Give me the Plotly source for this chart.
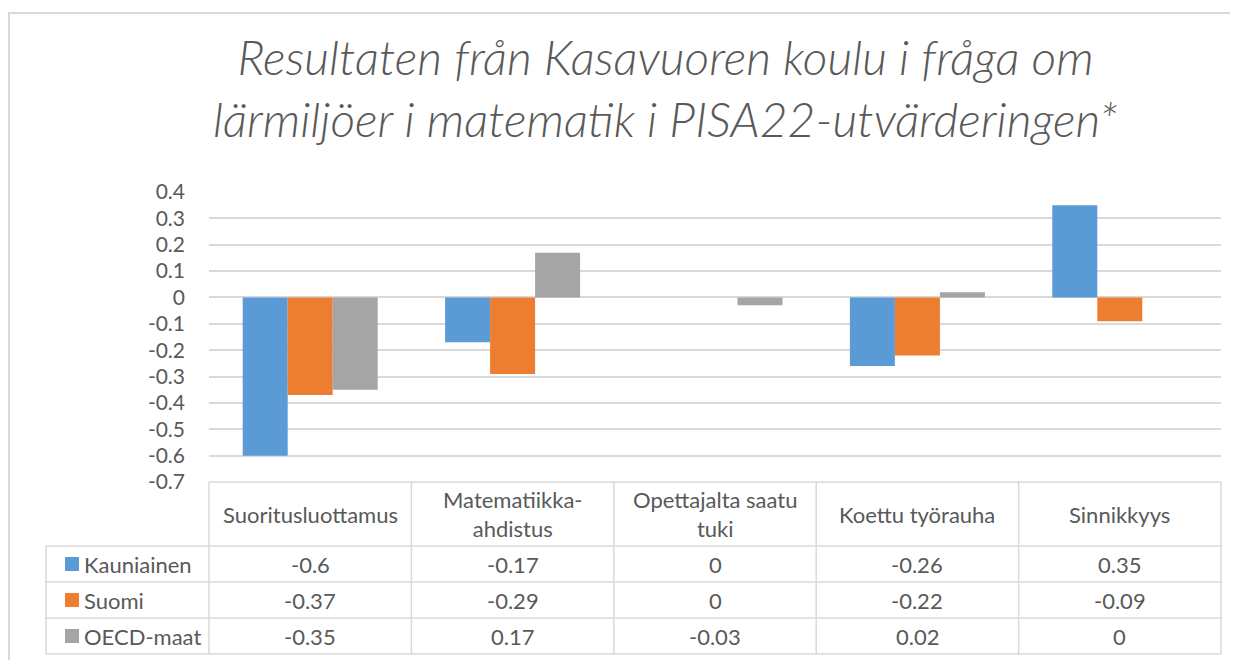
import plotly.graph_objects as go

categories = ["Suoritusluottamus", "Matematiikka-<br>ahdistus", "Opettajalta saatu<br>tuki",
              "Koettu työrauha", "Sinnikkyys"]
series_names = ["Kauniainen", "Suomi", "OECD-maat"]
kauniainen = [-0.6, -0.17, 0, -0.26, 0.35]
suomi = [-0.37, -0.29, 0, -0.22, -0.09]
oecd = [-0.35, 0.17, -0.03, 0.02, 0]
series_values = [kauniainen, suomi, oecd]
series_colors = ["#5b9bd5", "#ed7d31", "#a5a5a5"]
y_ticks = [0.4, 0.3, 0.2, 0.1, 0, -0.1, -0.2, -0.3, -0.4, -0.5, -0.6, -0.7]
title_text = "Resultaten från Kasavuoren koulu i fråga om<br>lärmiljöer i matematik i PISA22-utvärderingen*"

# page body has an 8px margin; work in screen pixels and shift by OFF
OFF = 8
W, H = 1238 - OFF, 660 - OFF
L, R, T, B = 209, 1221, 192, 482   # plot area in screen pixels
FONT = "Lato"
TXT = "#595959"
LINE = "#d9d9d9"
TFS = 22

def px(x):
    return (x - L) / (R - L)

def py(y):
    return (B - y) / (B - T)

fig = go.Figure()
for name, vals, col in zip(series_names, series_values, series_colors):
    fig.add_trace(go.Bar(x=list(range(len(categories))), y=vals, name=name,
                         marker=dict(color=col, line=dict(width=0)), showlegend=False))

shapes = []
# outer chart border
shapes.append(dict(type="line", xref="paper", yref="paper", x0=px(8), x1=px(1250), y0=py(13), y1=py(13),
                   line=dict(color=LINE, width=2)))
shapes.append(dict(type="line", xref="paper", yref="paper", x0=px(9), x1=px(9), y0=py(12), y1=py(680),
                   line=dict(color=LINE, width=2)))

# data table
row_lines = [546, 582, 618, 654]
col_w = (R - L) / len(categories)
tl = dict(color=LINE, width=1.5)
shapes.append(dict(type="line", xref="paper", yref="paper", x0=px(L), x1=px(R), y0=py(B), y1=py(B), line=tl))
for yl in row_lines:
    shapes.append(dict(type="line", xref="paper", yref="paper", x0=px(46), x1=px(R), y0=py(yl), y1=py(yl), line=tl))
for i in range(len(categories) + 1):
    xx = L + i * col_w
    shapes.append(dict(type="line", xref="paper", yref="paper", x0=px(xx), x1=px(xx), y0=py(B), y1=py(654), line=tl))
shapes.append(dict(type="line", xref="paper", yref="paper", x0=px(46), x1=px(46), y0=py(546), y1=py(654), line=tl))

annotations = []
annotations.append(dict(text=title_text, xref="paper", yref="paper", x=px(665), y=py(88), showarrow=False,
                        xanchor="center", yanchor="middle", align="center",
                        font=dict(family=FONT, size=48, color=TXT, style="italic", weight=300)))
# headers
for i, c in enumerate(categories):
    annotations.append(dict(text=c, xref="x", yref="paper", x=i, y=py(514), showarrow=False,
                            xanchor="center", yanchor="middle", align="center",
                            font=dict(family=FONT, size=TFS, color=TXT)))
row_centers = [564, 600, 636]
for r, (name, vals, col) in enumerate(zip(series_names, series_values, series_colors)):
    yc = row_centers[r]
    shapes.append(dict(type="rect", xref="paper", yref="paper", x0=px(65), x1=px(79), y0=py(yc - 7), y1=py(yc + 7),
                       fillcolor=col, line=dict(width=0)))
    annotations.append(dict(text=name, xref="paper", yref="paper", x=px(82), y=py(yc), showarrow=False,
                            xanchor="left", yanchor="middle", font=dict(family=FONT, size=TFS, color=TXT)))
    for i, v in enumerate(vals):
        annotations.append(dict(text=f"{v:g}", xref="x", yref="paper", x=i, y=py(yc), showarrow=False,
                                xanchor="center", yanchor="middle", font=dict(family=FONT, size=TFS, color=TXT)))

fig.update_layout(
    width=W, height=H,
    margin=dict(l=L - OFF, r=W - (R - OFF), t=T - OFF, b=H - (B - OFF), pad=0),
    paper_bgcolor="white", plot_bgcolor="white",
    barmode="group", bargap=0.333, bargroupgap=0,
    shapes=shapes, annotations=annotations,
    xaxis=dict(range=[-0.5, len(categories) - 0.5], showticklabels=False, showgrid=False,
               zeroline=False, showline=False, ticks=""),
    yaxis=dict(range=[-0.7, 0.4], tickvals=y_ticks, ticktext=[f"{v:g}" for v in y_ticks],
               showgrid=True, gridcolor=LINE, gridwidth=2, zeroline=True, zerolinecolor=LINE,
               zerolinewidth=2, showline=False, ticks="", ticklabelstandoff=23,
               tickfont=dict(family=FONT, size=21, color=TXT)),
)
fig.write_html("out.html")
